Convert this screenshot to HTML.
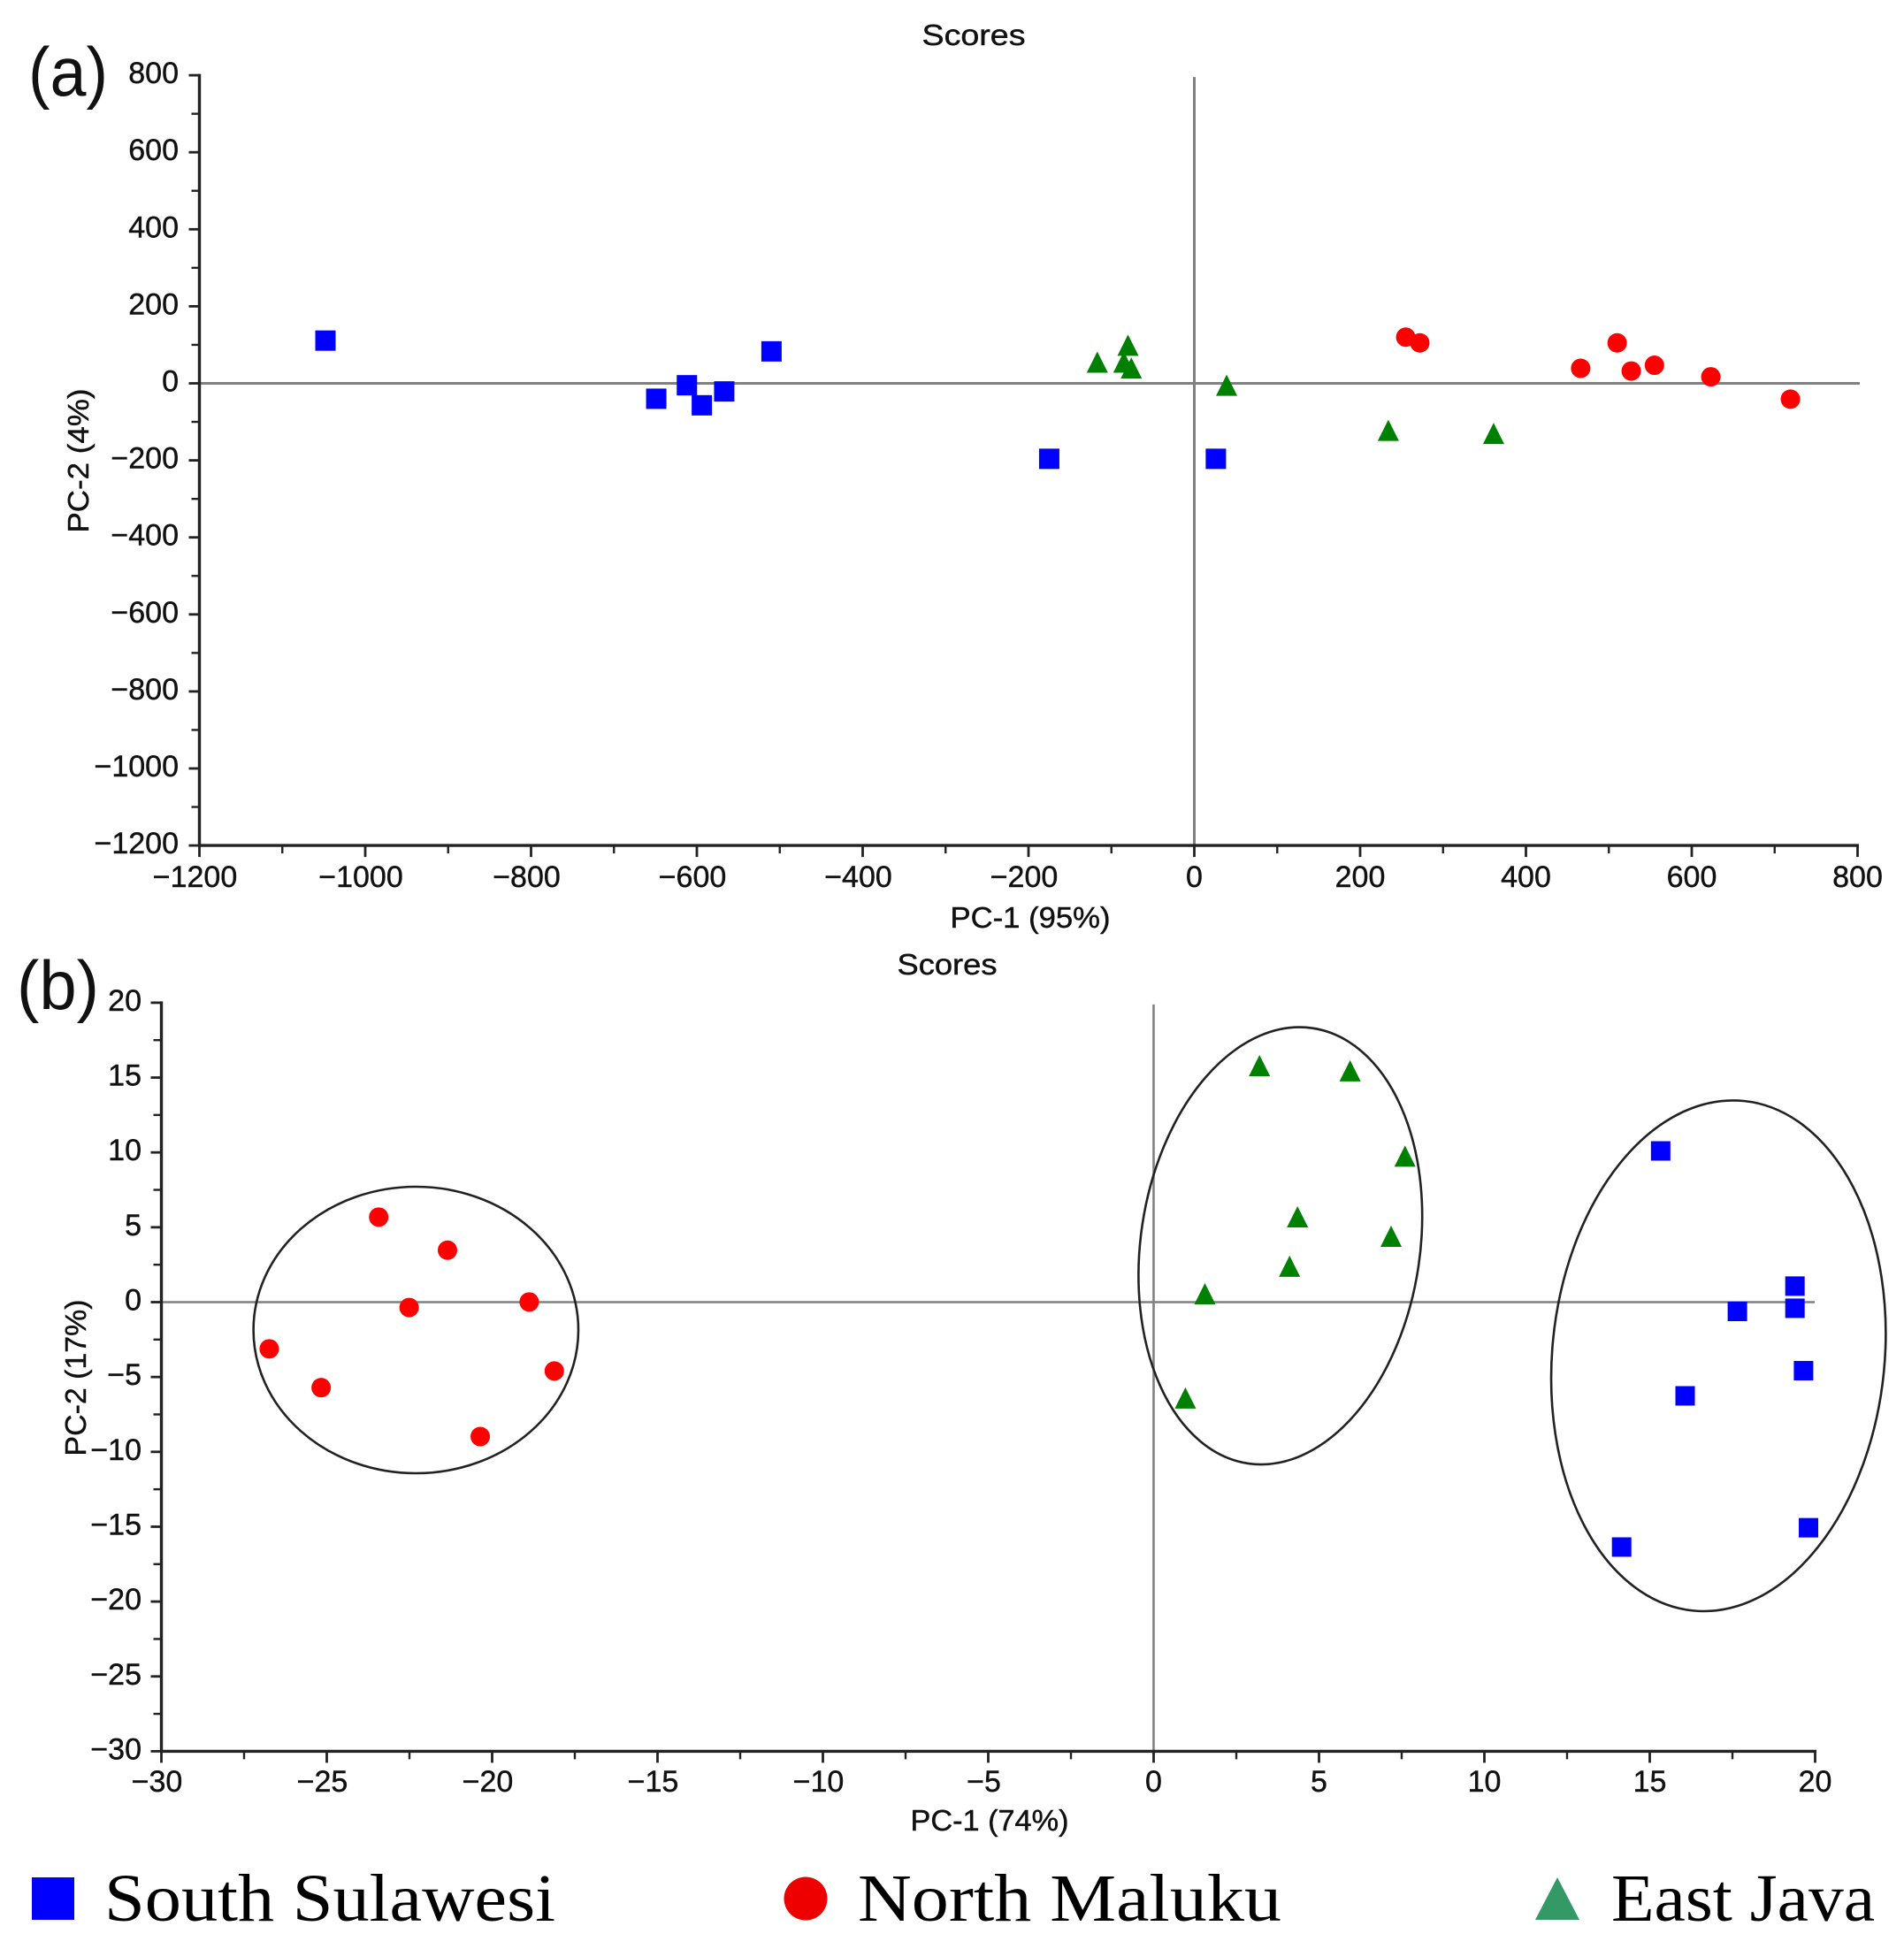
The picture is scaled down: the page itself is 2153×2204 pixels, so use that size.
<!DOCTYPE html>
<html lang="en">
<head>
<meta charset="utf-8">
<title>PCA Scores</title>
<style>
html,body{margin:0;padding:0;background:#fff;}
svg{display:block;}
.tick{font-family:"Liberation Sans",sans-serif;font-size:34px;fill:#111;stroke:#111;stroke-width:.45px;}
.lab{font-family:"Liberation Sans",sans-serif;font-size:33px;fill:#111;stroke:#111;stroke-width:.45px;}
.panel{font-family:"Liberation Sans",sans-serif;font-size:78px;fill:#111;}
.leg{font-family:"Liberation Serif",serif;font-size:76px;fill:#000;}
</style>
</head>
<body>
<svg id="chart" xmlns="http://www.w3.org/2000/svg" width="2153" height="2204" viewBox="0 0 2153 2204">
<rect width="2153" height="2204" fill="#fff"/>
<g id="static-text">
<text class="panel" x="32" y="108" textLength="90" lengthAdjust="spacingAndGlyphs">(a)</text>
<text class="panel" x="19" y="1141" textLength="93" lengthAdjust="spacingAndGlyphs">(b)</text>
<text class="lab" x="1101" y="51" text-anchor="middle" textLength="117" lengthAdjust="spacingAndGlyphs">Scores</text>
<text class="lab" x="1071" y="1102" text-anchor="middle" textLength="113" lengthAdjust="spacingAndGlyphs">Scores</text>
<text class="lab" x="1165" y="1049" text-anchor="middle" textLength="181" lengthAdjust="spacingAndGlyphs">PC-1 (95%)</text>
<text class="lab" x="1119" y="2070" text-anchor="middle" textLength="179" lengthAdjust="spacingAndGlyphs">PC-1 (74%)</text>
<text class="lab" transform="translate(100,521) rotate(-90)" text-anchor="middle" textLength="163" lengthAdjust="spacingAndGlyphs">PC-2 (4%)</text>
<text class="lab" transform="translate(97,1558) rotate(-90)" text-anchor="middle" textLength="177" lengthAdjust="spacingAndGlyphs">PC-2 (17%)</text>
</g>
<g id="panel-a"></g>
<g id="panel-b"></g>
<g id="ellipses" fill="none" stroke="#222" stroke-width="2.6">
<ellipse cx="470.3" cy="1504" rx="183.7" ry="162"/>
<ellipse cx="1447.8" cy="1408.8" rx="157.9" ry="248.8" transform="rotate(8.43 1447.8 1408.8)"/>
<ellipse cx="1943.2" cy="1533.2" rx="187.9" ry="289.6" transform="rotate(5.66 1943.2 1533.2)"/>
</g>
<g id="legend">
<rect x="36" y="2123" width="48" height="48" fill="#0000ff"/>
<text class="leg" x="118" y="2172" textLength="510" lengthAdjust="spacingAndGlyphs">South Sulawesi</text>
<circle cx="911" cy="2147" r="24.5" fill="#ee0000"/>
<text class="leg" x="970" y="2172" textLength="479" lengthAdjust="spacingAndGlyphs">North Maluku</text>
<polygon points="1736,2171 1786,2171 1761,2123" fill="#339966"/>
<text class="leg" x="1822" y="2172" textLength="298" lengthAdjust="spacingAndGlyphs">East Java</text>
</g>
</svg>
<script>
// Panel (a) tick labels
const aXTicks = [-1200,-1000,-800,-600,-400,-200,0,200,400,600,800];
const aYTicks = [800,600,400,200,0,-200,-400,-600,-800,-1000,-1200];
// Panel (a) series values
const aSouthX = [-1048,-649,-612,-594,-567,-510,-175,26];
const aSouthY = [111,-40,-5,-57,-21,83,-196,-196];
const aNorthX = [255,272,510,466,527,555,623,719];
const aNorthY = [120,105,105,39,32,47,17,-41];
const aEastX = [-117,-80,-85,-76,39,234,361];
const aEastY = [55,99,55,40,-5,-122,-130];
// Panel (b) tick labels
const bXTicks = [-30,-25,-20,-15,-10,-5,0,5,10,15,20];
const bYTicks = [20,15,10,5,0,-5,-10,-15,-20,-25,-30];
// Panel (b) series values
const bSouthX = [15.33,19.39,19.39,17.65,19.65,16.07,19.8,14.15];
const bSouthY = [10.1,1.07,-0.41,-0.62,-4.58,-6.26,-15.07,-16.36];
const bNorthX = [-26.74,-25.17,-23.43,-22.51,-21.35,-20.36,-18.88,-18.12];
const bNorthY = [-3.12,-5.71,5.68,-0.36,3.47,-8.98,0.01,-4.6];
const bEastX = [3.2,5.94,7.6,4.35,7.18,4.11,1.55,0.96];
const bEastY = [15.8,15.45,9.75,5.7,4.4,2.4,0.56,-6.4];

const NS = 'http://www.w3.org/2000/svg';

function xA(v){ return 1350.5 + v * 0.9375; }
function yA(v){ return 433.5 - v * 0.4355; }
function xB(v){ return 1304.5 + v * 37.4; }
function yB(v){ return 1472.5 - v * 16.93; }

function make(parent, tag, props){
  const el = document.createElementNS(NS, tag);
  for (const k in props) el.setAttribute(k, props[k]);
  parent.appendChild(el);
  return el;
}

function fmt(v){ return v < 0 ? '\u2212' + Math.abs(v) : String(v); }

function drawAxes(root, prefix, xs, ys, xT, yT, labelRight, xLabelBase, zeroOpts){
  const minX = Math.min.apply(null, xT), maxX = Math.max.apply(null, xT);
  const minY = Math.min.apply(null, yT), maxY = Math.max.apply(null, yT);
  const left = xs(minX), right = xs(maxX), top = ys(maxY), bottom = ys(minY);

  const hz = make(root, 'line', {x1:left, x2:zeroOpts.hEnd, y1:ys(0), y2:ys(0), stroke:'#808080', 'stroke-width':zeroOpts.w});
  
  
  const vz = make(root, 'line', {x1:xs(0), x2:xs(0), y1:top + 2, y2:bottom, stroke:'#808080', 'stroke-width':zeroOpts.w});
  
  

  const ya = make(root, 'line', {x1:left, x2:left, y1:top - 1.5, y2:bottom + 1.5, stroke:'#222', 'stroke-width':3.4});
  
  
  const xa = make(root, 'line', {x1:left - 1.5, x2:right + 1.5, y1:bottom, y2:bottom, stroke:'#222', 'stroke-width':3.4});
  
  

  xT.forEach(function(v, i){
    const t = make(root, 'line', {x1:xs(v), x2:xs(v), y1:bottom, y2:bottom + 13, stroke:'#222', 'stroke-width':2.8});
    
    
    const l = make(root, 'text', {x:xs(v) - (v < 0 ? 5 : 0), y:xLabelBase, 'text-anchor':'middle', 'class':'tick'});
    l.textContent = fmt(v);
    
    
    if (i < xT.length - 1) {
      const mid = (v + xT[i + 1]) / 2;
      const m = make(root, 'line', {x1:xs(mid), x2:xs(mid), y1:bottom, y2:bottom + 9, stroke:'#222', 'stroke-width':2.4});
      
      
    }
  });

  yT.forEach(function(v, i){
    const t = make(root, 'line', {x1:left - 12, x2:left, y1:ys(v), y2:ys(v), stroke:'#222', 'stroke-width':2.8});
    
    
    const l = make(root, 'text', {x:labelRight, y:ys(v) + 9, 'text-anchor':'end', 'class':'tick'});
    l.textContent = fmt(v);
    
    
    if (i < yT.length - 1) {
      const mid = (v + yT[i + 1]) / 2;
      const m = make(root, 'line', {x1:left - 9, x2:left, y1:ys(mid), y2:ys(mid), stroke:'#222', 'stroke-width':2.4});
      
      
    }
  });
}

function squares(root, prefix, xs, ys, dx, dy, half){
  dx.forEach(function(v, i){
    const s = make(root, 'rect', {x:xs(v) - half, y:ys(dy[i]) - half, width:half * 2, height:half * 2, fill:'#0000ff'});
    
    
  });
}
function circles(root, prefix, xs, ys, dx, dy, r){
  dx.forEach(function(v, i){
    const c = make(root, 'circle', {cx:xs(v), cy:ys(dy[i]), r:r, fill:'#ff0000'});
    
    
  });
}
function triangles(root, prefix, xs, ys, dx, dy, half){
  dx.forEach(function(v, i){
    const cx = xs(v), cy = ys(dy[i]);
    const pts = (cx - half) + ',' + (cy + half) + ' ' + (cx + half) + ',' + (cy + half) + ' ' + cx + ',' + (cy - half);
    const p = make(root, 'polygon', {points:pts, fill:'#008000'});
    
    
  });
}

const rootA = document.getElementById('panel-a');
const rootB = document.getElementById('panel-b');

drawAxes(rootA, 'panel-a', xA, yA, aXTicks, aYTicks, 202, 1003, {hEnd:2103, w:3});
squares(rootA, 'panel-a', xA, yA, aSouthX, aSouthY, 11.5);
circles(rootA, 'panel-a', xA, yA, aNorthX, aNorthY, 11);
triangles(rootA, 'panel-a', xA, yA, aEastX, aEastY, 12);

drawAxes(rootB, 'panel-b', xB, yB, bXTicks, bYTicks, 160, 2026, {hEnd:2052, w:2.6});
squares(rootB, 'panel-b', xB, yB, bSouthX, bSouthY, 11);
circles(rootB, 'panel-b', xB, yB, bNorthX, bNorthY, 11);
triangles(rootB, 'panel-b', xB, yB, bEastX, bEastY, 12);
</script>
</body>
</html>
